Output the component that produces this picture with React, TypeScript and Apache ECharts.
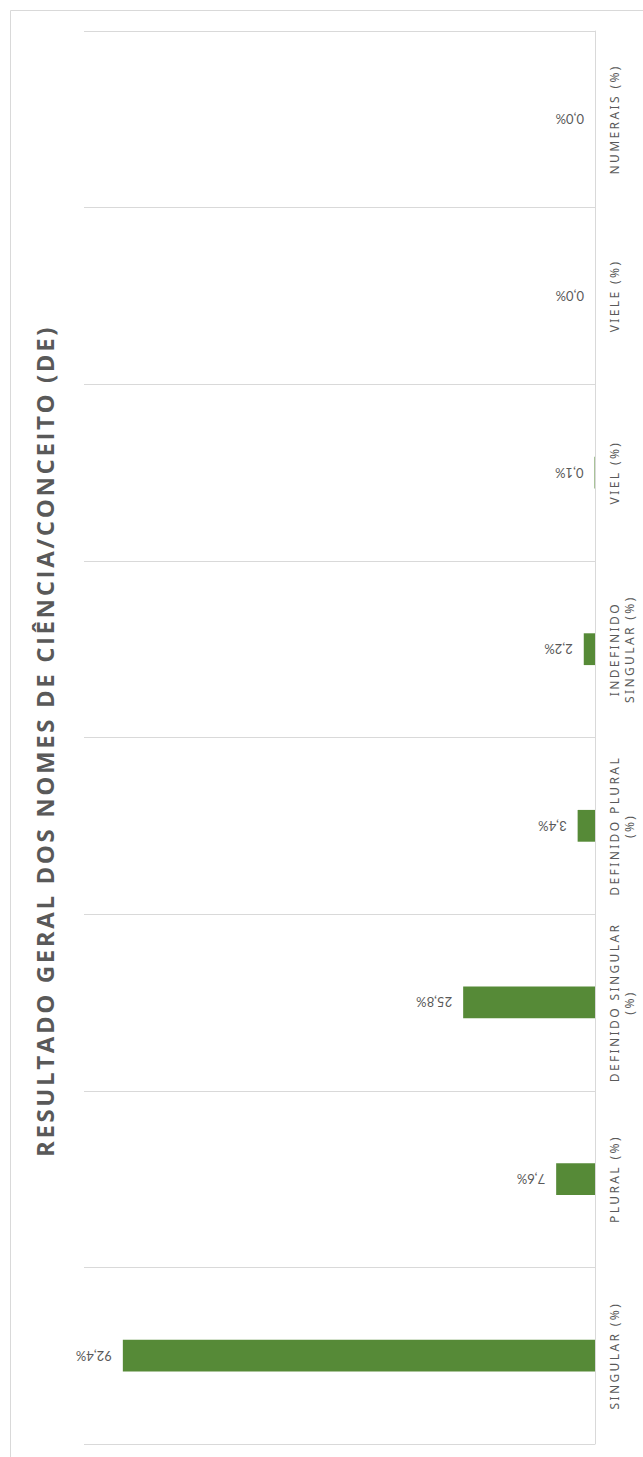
import React, { useEffect, useRef } from "react";
import * as echarts from "echarts";

const categories = [
  "SINGULAR (%)",
  "PLURAL (%)",
  "DEFINIDO SINGULAR\n(%)",
  "DEFINIDO PLURAL\n(%)",
  "INDEFINIDO\nSINGULAR (%)",
  "VIEL (%)",
  "VIELE (%)",
  "NUMERAIS (%)",
];
const values = [92.4, 7.6, 25.8, 3.4, 2.2, 0.1, 0.0, 0.0];
const titleText = "RESULTADO GERAL DOS NOMES DE CIÊNCIA/CONCEITO (DE)";

const css = `
#chartbox text[style*="Open Sans"] { letter-spacing: 2.6px; }
#chartbox text[style*="Noto Sans"] { letter-spacing: 2.4px; }
`;

export default function App() {
  const ref = useRef<HTMLDivElement>(null);
  useEffect(() => {
    if (!ref.current) return;
    const chart = echarts.init(ref.current, null, { renderer: "svg" });
    chart.setOption({
      animation: false,
      backgroundColor: "#ffffff",
      grid: { left: 84, right: 48, top: 31, bottom: 13, containLabel: false },
      xAxis: {
        type: "value",
        min: 0,
        max: 100,
        inverse: true,
        axisLine: { show: false },
        axisTick: { show: false },
        axisLabel: { show: false },
        splitLine: { show: false },
      },
      yAxis: {
        type: "category",
        position: "right",
        data: categories,
        axisLine: { show: true, lineStyle: { color: "#d9d9d9", width: 1 } },
        axisTick: { show: false },
        splitLine: { show: true, lineStyle: { color: "#d9d9d9", width: 1 } },
        axisLabel: {
          interval: 0,
          rotate: 90,
          margin: 12,
          fontSize: 12,
          lineHeight: 15,
          color: "#595959",
          fontFamily: "Noto Sans",
          align: "center",
        },
      },
      graphic: [
        {
          type: "rect",
          shape: { x: 10.5, y: 10.5, width: 700, height: 1500 },
          style: { fill: "none", stroke: "#d9d9d9", lineWidth: 1 },
          silent: true,
        },
        {
          type: "text",
          x: 44,
          y: 741,
          rotation: Math.PI / 2,
          style: {
            text: titleText,
            fontSize: 24,
            fontWeight: "bold",
            fontFamily: "Open Sans",
            fill: "#595959",
            align: "center",
            verticalAlign: "middle",
          },
        },
      ],
      series: [
        {
          type: "bar",
          data: values,
          barWidth: "18%",
          itemStyle: { color: "#568a37" },
          label: {
            show: true,
            position: "left",
            distance: 11,
            rotate: 180,
            align: "left",
            verticalAlign: "middle",
            fontSize: 13,
            fontFamily: "Lato",
            color: "#595959",
            formatter: (p: any) => p.value.toFixed(1).replace(".", ",") + "%",
          },
        },
      ],
    });
    return () => chart.dispose();
  }, []);
  return (
    <>
      <style>{css}</style>
      <div
        id="chartbox"
        ref={ref}
        style={{ position: "fixed", left: 0, top: 0, width: 643, height: 1457 }}
      />
    </>
  );
}
